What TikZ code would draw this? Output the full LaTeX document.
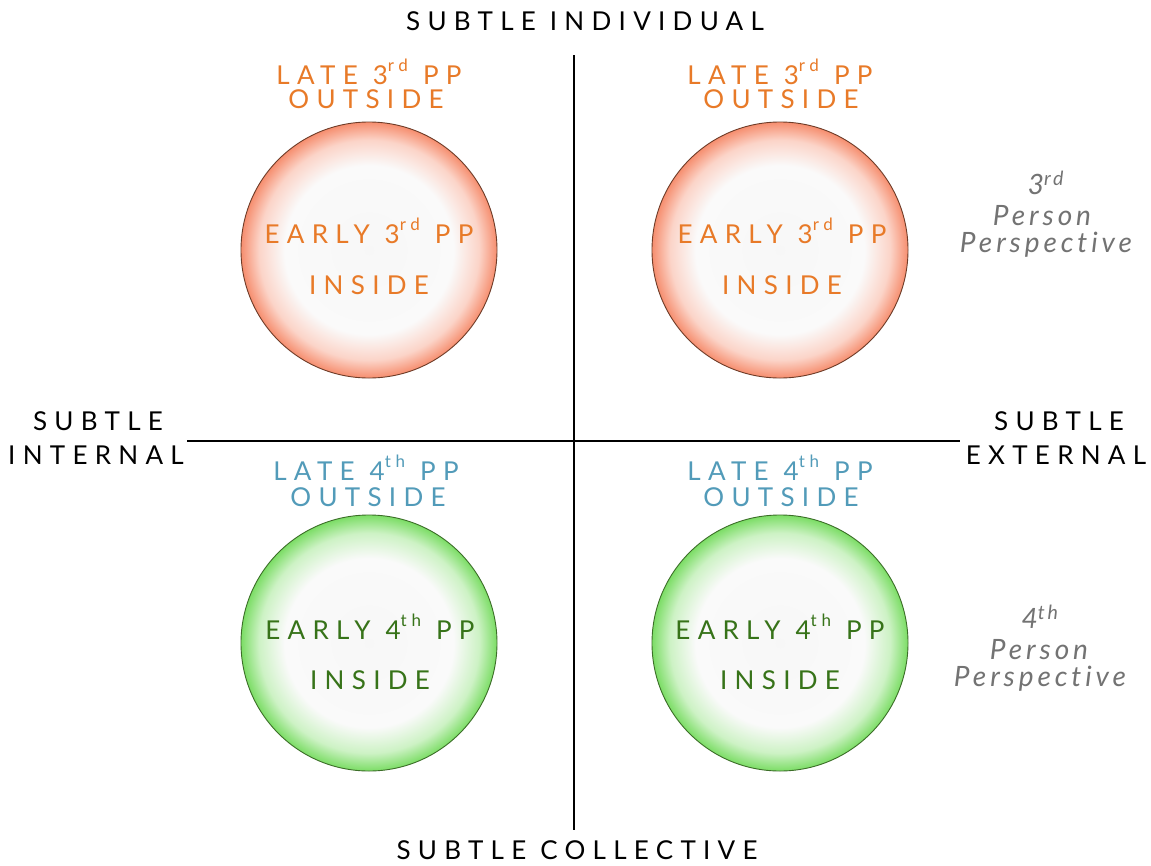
\documentclass[tikz,border=0pt]{standalone}
\usepackage{fontspec}
\setmainfont{Lato}
\newfontfamily\spacedfont[LetterSpace=28]{Lato}
\newfontfamily\persfont[LetterSpace=14,Ligatures={NoCommon,NoRare}]{Lato Italic}
\definecolor{orangetxt}{RGB}{232,122,40}
\definecolor{bluetxt}{RGB}{82,155,185}
\definecolor{greentxt}{RGB}{55,115,25}
\definecolor{graytxt}{RGB}{115,115,115}
\definecolor{orangeedge}{RGB}{245,132,98}
\definecolor{greenedge}{RGB}{112,218,88}
\pgfdeclareradialshading{orangeball}{\pgfpoint{0bp}{0bp}}{color(0bp)=(white!97!black); color(16.5bp)=(white!98!black); color(21.5bp)=(orangeedge!35!white); color(25bp)=(orangeedge!92!white); color(50bp)=(orangeedge)}
\pgfdeclareradialshading{greenball}{\pgfpoint{0bp}{0bp}}{color(0bp)=(white!97!black); color(16.5bp)=(white!98!black); color(21.5bp)=(greenedge!35!white); color(25bp)=(greenedge!92!white); color(50bp)=(greenedge)}
\newcommand{\supx}[1]{\raisebox{0.5em}{\fontsize{17}{17}\selectfont #1}}
\newcommand{\wsp}{\hspace{15pt}}
\tikzset{
  lbl/.style={font=\spacedfont\fontsize{26}{34}\selectfont, inner sep=0pt, anchor=center, align=center, text height=19pt, text depth=0pt},
  axislbl/.style={lbl, text=black},
  otxt/.style={lbl, text=orangetxt},
  btxt/.style={lbl, text=bluetxt},
  gtxt/.style={lbl, text=greentxt},
  pers/.style={font=\persfont\fontsize{28}{30}\selectfont, text=graytxt, inner sep=0pt, text height=19pt, text depth=0pt},
  ballO/.style={circle, minimum size=256pt, inner sep=0pt, shade, shading=orangeball, draw={rgb,255:red,110;green,60;blue,40}, line width=0.9pt},
  ballG/.style={circle, minimum size=256pt, inner sep=0pt, shade, shading=greenball, draw={rgb,255:red,60;green,110;blue,40}, line width=0.9pt},
  axis/.style={draw=black, line width=1.1pt}
}
\begin{document}
\begin{tikzpicture}[x=1pt,y=-1pt]
\path[use as bounding box, fill=white] (0,0) rectangle (1151,865);
% axes
\coordinate (vt) at (574,55);
\coordinate (vb) at (574,830);
\coordinate (hl) at (187,441);
\coordinate (hr) at (960,441);
\draw[axis] (vt) -- (vb);
\draw[axis] (hl) -- (hr);
% axis labels
\node[axislbl] (top) at (585,21) {SUBTLE INDIVIDUAL};
\node[axislbl] (bot) at (577,850) {SUBTLE COLLECTIVE};
\node[axislbl] (lfta) at (98,421) {SUBTLE};
\node[axislbl] (lftb) at (96,455) {INTERNAL};
\node[axislbl] (rgta) at (1059,421) {SUBTLE};
\node[axislbl] (rgtb) at (1056,455) {EXTERNAL};
% circles
\node[ballO] (c1) at (369,250) {};
\node[ballO] (c2) at (780,250) {};
\node[ballG] (c3) at (369,643) {};
\node[ballG] (c4) at (780,643) {};
% top-left
\node[otxt] (l1a) at (369,75) {LATE\wsp 3\supx{rd}\wsp PP};
\node[otxt] (l1b) at (366,99) {OUTSIDE};
\node[otxt] (e1a) at (369,234) {EARLY\wsp 3\supx{rd}\wsp PP};
\node[otxt] (e1b) at (369,285) {INSIDE};
% top-right
\node[otxt] (l2a) at (780,75) {LATE\wsp 3\supx{rd}\wsp PP};
\node[otxt] (l2b) at (781,99) {OUTSIDE};
\node[otxt] (e2a) at (782,234) {EARLY\wsp 3\supx{rd}\wsp PP};
\node[otxt] (e2b) at (782,285) {INSIDE};
% bottom-left
\node[btxt] (l3a) at (366,471) {LATE\wsp 4\supx{th}\wsp PP};
\node[btxt] (l3b) at (368,497) {OUTSIDE};
\node[gtxt] (e3a) at (370,630) {EARLY\wsp 4\supx{th}\wsp PP};
\node[gtxt] (e3b) at (370,680) {INSIDE};
% bottom-right
\node[btxt] (l4a) at (780,471) {LATE\wsp 4\supx{th}\wsp PP};
\node[btxt] (l4b) at (781,497) {OUTSIDE};
\node[gtxt] (e4a) at (780,630) {EARLY\wsp 4\supx{th}\wsp PP};
\node[gtxt] (e4b) at (780,680) {INSIDE};
% right side perspective labels
\node[pers] (p3a) at (1046,185) {3\textsuperscript{rd}};
\node[pers] (p3b) at (1042,216) {Person};
\node[pers] (p3c) at (1046,243) {Perspective};
\node[pers] (p4a) at (1040,619) {4\textsuperscript{th}};
\node[pers] (p4b) at (1039,650) {Person};
\node[pers] (p4c) at (1040,677) {Perspective};
\end{tikzpicture}
\end{document}
